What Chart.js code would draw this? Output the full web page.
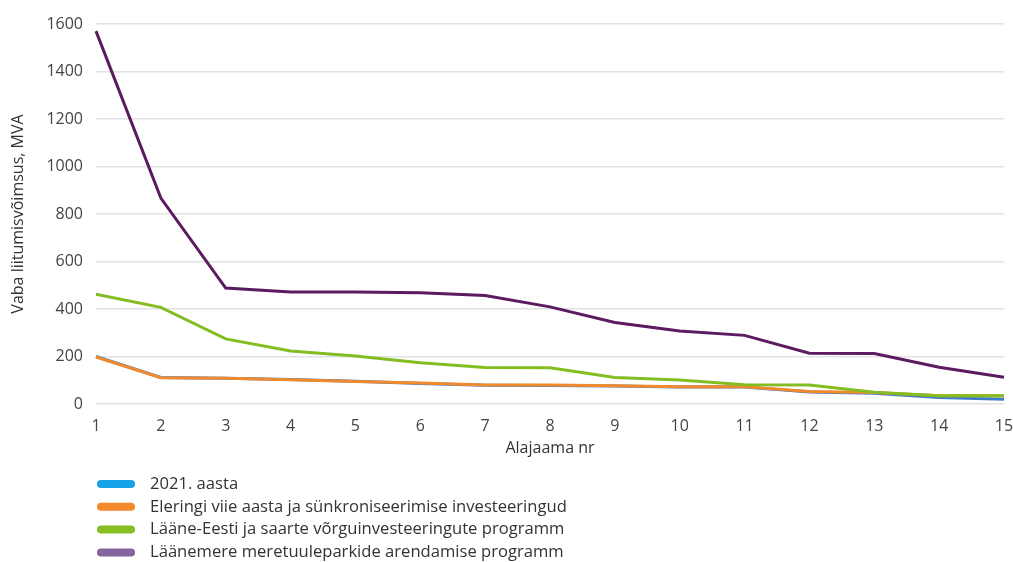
<!DOCTYPE html>
<html lang="et">
<head>
<meta charset="utf-8">
<script src="https://cdn.jsdelivr.net/npm/chart.js@4/dist/chart.umd.min.js"></script>
<style>
  html, body { margin: 0; padding: 0; background: #fff; }
  #wrap { width: 1013px; height: 562px; position: relative; }
</style>
</head>
<body>
<div id="wrap"><canvas id="c" width="1013" height="562"></canvas></div>
<script>
// Substation numbers (x axis)
const categories = ['1','2','3','4','5','6','7','8','9','10','11','12','13','14','15'];

// Free connection capacity, MVA, per scenario
const seriesNames = [
  '2021. aasta',
  'Eleringi viie aasta ja sünkroniseerimise investeeringud',
  'Lääne-Eesti ja saarte võrguinvesteeringute programm',
  'Läänemere meretuuleparkide arendamise programm'
];
const values2021       = [200, 112, 108, 103, 96, 86, 79, 78, 76, 72, 72, 51, 45, 27, 20];
const valuesElering    = [198, 111, 108, 102, 95, 88, 80, 80, 77, 73, 73, 53, 48, 35, 35];
const valuesLaaneEesti = [462, 407, 274, 223, 202, 174, 154, 153, 112, 101, 81, 80, 49, 35, 35];
const valuesMeretuul   = [1570, 867, 488, 472, 472, 468, 457, 409, 343, 307, 289, 214, 213, 155, 113];

const yTicks = [0, 200, 400, 600, 800, 1000, 1200, 1400, 1600];

const lineColors   = ['#3b7ccc', '#f08a2c', '#84bd22', '#5c1a60'];
const legendColors = ['#16a2e6', '#f5882a', '#86be24', '#8763a0'];

const FONT = '"Open Sans", Roboto, sans-serif';

// Vertical legend below the plot
const stackedLegend = {
  id: 'stackedLegend',
  afterDraw(chart) {
    const ctx = chart.ctx;
    const x0 = 97, y0 = 484, step = 22.8;
    ctx.save();
    ctx.font = '16.6px ' + FONT;
    ctx.textBaseline = 'middle';
    ctx.textAlign = 'left';
    seriesNames.forEach((name, i) => {
      const y = y0 + i * step;
      ctx.fillStyle = legendColors[i];
      ctx.beginPath();
      ctx.roundRect(x0, y - 4, 38, 8, 4);
      ctx.fill();
      ctx.fillStyle = '#333';
      ctx.fillText(name, 150, y);
    });
    ctx.restore();
  }
};

const seriesValues = [values2021, valuesElering, valuesLaaneEesti, valuesMeretuul];
// later series sit on top of earlier ones
const datasets = seriesNames.map((name, i) => ({
  label: name,
  data: seriesValues[i],
  borderColor: lineColors[i],
  backgroundColor: lineColors[i],
  borderWidth: 3,
  pointRadius: 0,
  tension: 0,
  fill: false,
  order: seriesNames.length - i
}));

new Chart(document.getElementById('c'), {
  type: 'line',
  data: { labels: categories, datasets },
  options: {
    responsive: false,
    animation: false,
    layout: { padding: { left: 0, right: 9, top: 24, bottom: 104 } },
    plugins: {
      legend: { display: false },
      tooltip: { enabled: false }
    },
    scales: {
      x: {
        grid: { display: false, drawTicks: false },
        border: { display: false },
        ticks: { color: '#444', font: { family: FONT, size: 16 }, padding: 13, maxRotation: 0, autoSkip: false },
        title: { display: true, text: 'Alajaama nr', color: '#333', font: { family: FONT, size: 16 }, padding: { top: 0, bottom: 0 } },
        afterFit(scale) {
          scale.height = 54;
          scale.paddingLeft = 0;
          scale.paddingRight = 0;
        }
      },
      y: {
        min: 0, max: 1600,
        afterBuildTicks(scale) { scale.ticks = yTicks.map(v => ({ value: v })); },
        grid: { color: '#e2e2e2', lineWidth: 1.5, drawTicks: false },
        border: { display: false },
        ticks: { color: '#444', font: { family: FONT, size: 16 }, padding: 13, callback: v => String(v) },
        title: { display: true, text: 'Vaba liitumisvõimsus, MVA', color: '#333', font: { family: FONT, size: 16 }, padding: { top: 9, bottom: 0 } },
        afterFit(scale) {
          scale.width = 96;
          scale.paddingTop = 0;
          scale.paddingBottom = 0;
        }
      }
    }
  },
  plugins: [stackedLegend]
});
</script>
</body>
</html>
